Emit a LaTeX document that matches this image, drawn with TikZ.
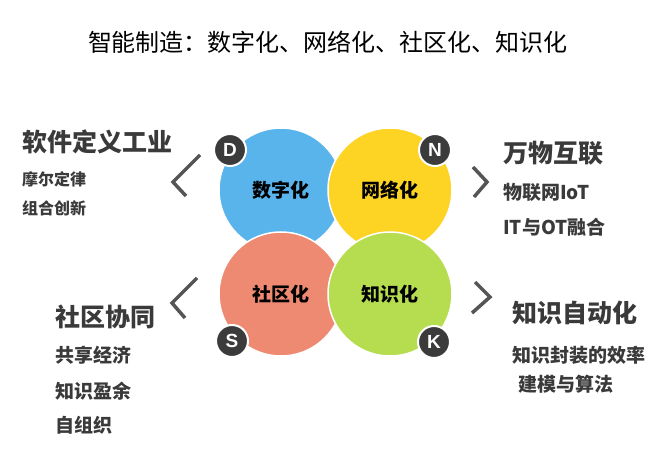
\documentclass[tikz,border=0pt]{standalone}
\usepackage{fontspec}
\setmainfont{Noto Sans CJK SC}
\newfontfamily\latin{Liberation Sans}
\definecolor{dblue}{HTML}{5AB4EC}
\definecolor{nyellow}{HTML}{FDD324}
\definecolor{sred}{HTML}{EF8A72}
\definecolor{kgreen}{HTML}{B6DD4F}
\definecolor{badgegray}{HTML}{3B3B3B}
\definecolor{txtgray}{HTML}{3A3A3A}
\definecolor{chevgray}{HTML}{555555}
\tikzset{
  ball/.style={circle,minimum size=124,inner sep=0,draw=white,line width=1.5,
    font=\bfseries\fontsize{19}{19}\selectfont},
  badge/.style={circle,minimum size=32,inner sep=0,fill=badgegray,draw=white,
    line width=2,text=white,font=\latin\bfseries\fontsize{19}{19}\selectfont},
  head/.style={anchor=west,inner sep=0,text=txtgray,
    font=\bfseries\fontsize{25}{25}\selectfont},
  sub/.style={anchor=west,inner sep=0,text=txtgray,
    font=\bfseries\fontsize{19}{19}\selectfont},
  chev/.style={draw=chevgray,line width=3.5,miter limit=4}
}
\begin{document}
\begin{tikzpicture}[x=1pt,y=-1pt]
        \useasboundingbox (0,0) rectangle (665,457);
        \node[font=\fontsize{24}{24}\selectfont,inner sep=0] (title) at (328,42)
            {智能制造：数字化、网络化、社区化、知识化};
        % four circles
        \node[ball,fill=dblue]   (dig) at (281,190) {数字化};
        \node[ball,fill=nyellow] (net) at (390,190) {网络化};
        \node[ball,fill=sred]    (soc) at (281,294) {社区化};
        \node[ball,fill=kgreen]  (kno) at (390,294) {知识化};
        \node[badge] (d) at (230,150) {D};
        \node[badge] (n) at (435,150) {N};
        \node[badge] (s) at (232,341) {S};
        \node[badge] (k) at (434,342) {K};
        % side texts
        \node[head] (swd) at (22,142) {软件定义工业};
        \node[sub,font=\bfseries\fontsize{16}{16}\selectfont] (moore) at (22,179) {摩尔定律};
        \node[sub,font=\bfseries\fontsize{16}{16}\selectfont] (comb) at (22,208) {组合创新};
        \node[head] (wwhl) at (503,153) {万物互联};
        \node[sub] (iot) at (503,192) {物联网IoT};
        \node[sub] (itot) at (503,227) {IT与OT融合};
        \node[head] (sqxt) at (55,317) {社区协同};
        \node[sub] (share) at (55,355) {共享经济};
        \node[sub] (surplus) at (55,391) {知识盈余};
        \node[sub] (selforg) at (55,425) {自组织};
        \node[head] (zszd) at (512,313) {知识自动化};
        \node[sub] (pack) at (512,355) {知识封装的效率};
        \node[sub] (algo) at (518,384) {建模与算法};
        % chevrons
        \draw[chev] (200,155) -- (173,182) -- (186,196);
        \draw[chev] (473,167) -- (487,182) -- (474,197);
        \draw[chev] (197,278) -- (172,303) -- (185,318);
        \draw[chev] (475,282) -- (490,297) -- (472,313);
\end{tikzpicture}
\end{document}
